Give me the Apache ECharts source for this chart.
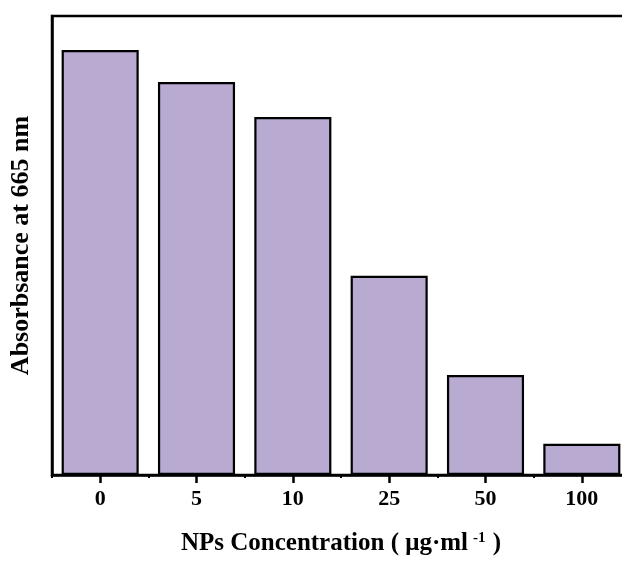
<!DOCTYPE html>
<html>
<head>
<meta charset="utf-8">
<script src="https://cdn.jsdelivr.net/npm/echarts@6/dist/echarts.min.js"></script>
<style>
  html, body { margin: 0; padding: 0; background: #fff; overflow: hidden; }
  /* plot runs a little past the right edge of the picture, like the original */
  #chart { width: 640px; height: 561px; }
</style>
</head>
<body>
<div id="chart"></div>
<script>
// concentrations (ug/ml) and absorbance
var categories = ['0', '5', '10', '25', '50', '100'];
var absorbance = [0.926, 0.856, 0.780, 0.434, 0.218, 0.068];
var yMax = 1.0;

var font = '"Liberation Serif", "Times New Roman", serif';
var chart = echarts.init(document.getElementById('chart'));

chart.setOption({
    animation: false,
    grid: {
        left: 52, top: 16, right: 10, bottom: 86,
        show: true, borderColor: '#000', borderWidth: 2.5
    },
    xAxis: [{
        type: 'category',
        data: categories,
        axisLine: { lineStyle: { color: '#000', width: 2.5 } },
        axisTick: { show: true, alignWithLabel: true, length: 8, lineStyle: { color: '#000', width: 2.5 } },
        axisLabel: { color: '#000', fontFamily: font, fontWeight: 'bold', fontSize: 22, margin: 13 },
        name: '{t|NPs Concentration ( μg·ml}{s|-1}{t| )}',
        nameLocation: 'middle',
        nameGap: 56,
        nameTextStyle: {
            rich: {
                t: { color: '#000', fontFamily: font, fontWeight: 'bold', fontSize: 25 },
                s: { color: '#000', fontFamily: font, fontWeight: 'bold', fontSize: 15, verticalAlign: 'top', padding: [0, 1, 10, 5] }
            }
        }
    }, {
        // small ticks on the category edges
        type: 'category',
        data: categories,
        position: 'bottom',
        axisLine: { show: false },
        axisTick: { show: true, length: 3, lineStyle: { color: '#000', width: 2 } },
        axisLabel: { show: false }
    }],
    yAxis: {
        type: 'value',
        min: 0,
        max: yMax,
        splitLine: { show: false },
        axisLine: { show: true, lineStyle: { color: '#000', width: 2.5 } },
        axisTick: { show: false },
        axisLabel: { show: false },
        name: 'Absorbsance at 665 nm',
        nameLocation: 'middle',
        nameGap: 18,
        nameTextStyle: { color: '#000', fontFamily: font, fontWeight: 'bold', fontSize: 26 }
    },
    series: [{
        type: 'bar',
        data: absorbance,
        barWidth: '80%',
        itemStyle: { color: '#b9aad2', borderColor: '#000', borderWidth: 2.2 }
    }]
});
</script>
</body>
</html>
